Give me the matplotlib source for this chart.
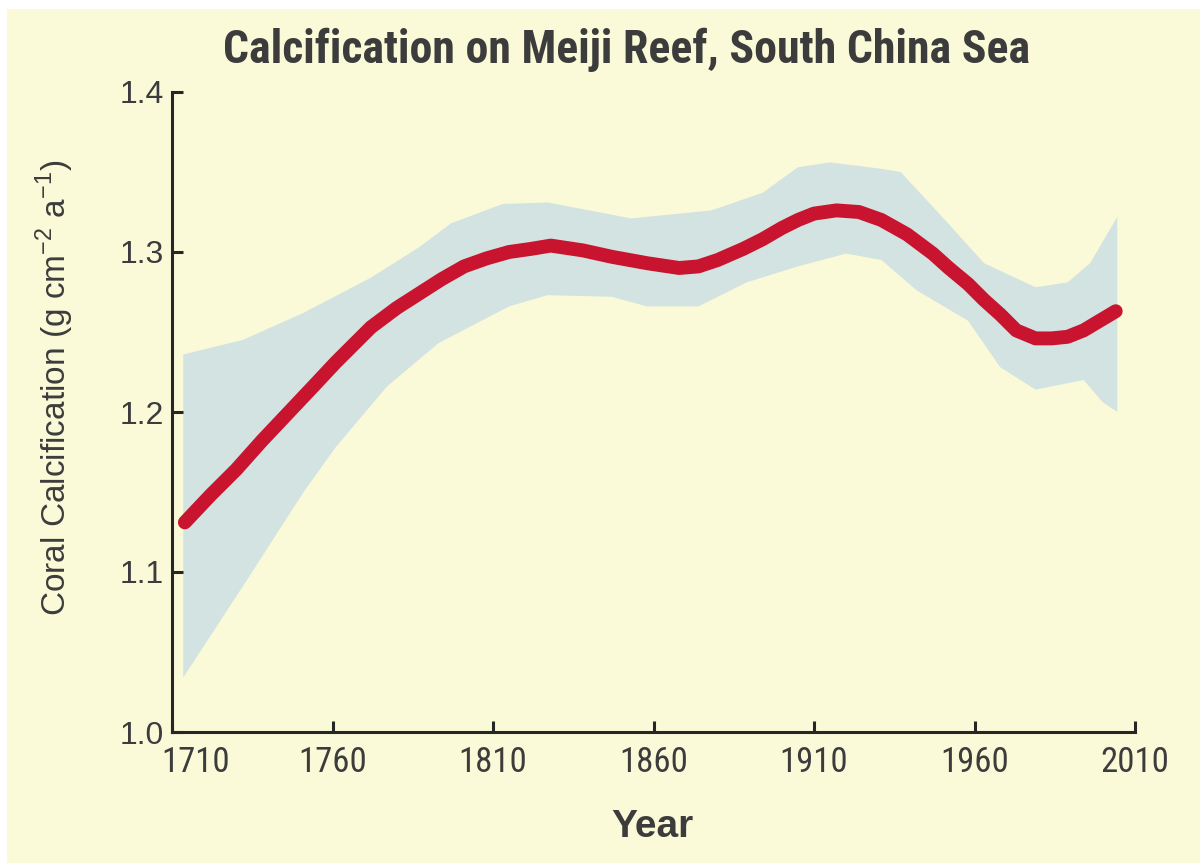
import matplotlib
matplotlib.use("Agg")
import matplotlib.pyplot as plt
from matplotlib import font_manager
from matplotlib.patches import Rectangle
from matplotlib.transforms import ScaledTranslation

def pick(names):
    for n in names:
        try:
            font_manager.findfont(font_manager.FontProperties(family=n), fallback_to_default=False)
            return n
        except Exception:
            pass
    return "DejaVu Sans"

NARROW = pick(["Liberation Sans Narrow", "Roboto Condensed", "Liberation Sans"])
SANS = pick(["Liberation Sans", "Arial", "DejaVu Sans"])

plt.rcParams["font.family"] = [SANS, "DejaVu Sans"]
plt.rcParams["mathtext.fontset"] = "custom"
plt.rcParams["mathtext.rm"] = SANS

# ---- data ----
line_years = [1714, 1722, 1730, 1738, 1746, 1754, 1761, 1767, 1772, 1780,
              1787, 1794, 1801, 1808, 1815, 1822, 1828, 1838, 1847, 1858,
              1868, 1874, 1880, 1888, 1894, 1900, 1905, 1910, 1917, 1924,
              1931, 1939, 1947, 1952, 1958, 1963, 1968, 1973, 1979, 1984,
              1989, 1994, 1999, 2004]
line_vals = [1.131, 1.148, 1.164, 1.182, 1.199, 1.216, 1.231, 1.243, 1.253, 1.265,
             1.274, 1.283, 1.291, 1.296, 1.300, 1.302, 1.304, 1.301, 1.297, 1.293,
             1.290, 1.291, 1.295, 1.302, 1.308, 1.315, 1.320, 1.324, 1.326, 1.325,
             1.320, 1.311, 1.299, 1.290, 1.280, 1.270, 1.261, 1.251, 1.246, 1.246,
             1.247, 1.251, 1.257, 1.263]

upper_years = [1713.5, 1732, 1751, 1772, 1787, 1797, 1813, 1827, 1853, 1878,
               1894, 1905, 1915, 1931, 1937, 1949, 1963, 1979, 1989, 1996, 2004.5]
upper_vals = [1.236, 1.245, 1.262, 1.284, 1.303, 1.318, 1.330, 1.331, 1.321, 1.326,
              1.337, 1.353, 1.356, 1.352, 1.350, 1.324, 1.293, 1.278, 1.281, 1.293, 1.322]

lower_years = [1713.5, 1734, 1751, 1761, 1777, 1793, 1815, 1827, 1847, 1858,
               1874, 1889, 1905, 1920, 1931, 1942, 1958, 1968, 1979, 1994, 2000, 2004.5]
lower_vals = [1.034, 1.097, 1.150, 1.178, 1.216, 1.243, 1.266, 1.273, 1.272, 1.266,
              1.266, 1.281, 1.291, 1.299, 1.295, 1.276, 1.257, 1.228, 1.214, 1.220, 1.206, 1.200]

x_ticks = [1710, 1760, 1810, 1860, 1910, 1960, 2010]
y_ticks = [1.0, 1.1, 1.2, 1.3, 1.4]

title = "Calcification on Meiji Reef, South China Sea"
xlabel = "Year"
ylabel = r"Coral Calcification (g cm$^{\mathregular{-2}}$ a$^{\mathregular{-1}}$)"

BG = "#FAFAD9"
BAND = "#D3E3E2"
RED = "#C8142F"
TXT = "#3C3C3C"
AX = "#262626"

fig = plt.figure(figsize=(12, 8.63), dpi=100, facecolor="white")
fig.patches.append(Rectangle((7 / 1200, 0), 1 - 7 / 1200, 1 - 9 / 863,
                             transform=fig.transFigure, facecolor=BG,
                             edgecolor="none", zorder=-10))

ax = fig.add_axes([172 / 1200, 131 / 863, (1135 - 172) / 1200, (771 - 131) / 863])
ax.set_facecolor("none")

band_x = list(upper_years) + list(lower_years[::-1])
band_y = list(upper_vals) + list(lower_vals[::-1])
ax.fill(band_x, band_y, color=BAND, lw=0, zorder=1)
ax.plot(line_years, line_vals, color=RED, lw=10, solid_capstyle="round",
        solid_joinstyle="round", zorder=3)

ax.set_xlim(1710, 2010)
ax.set_ylim(1.0, 1.4)
for s in ("top", "right"):
    ax.spines[s].set_visible(False)
for s in ("left", "bottom"):
    ax.spines[s].set_linewidth(2.2)
    ax.spines[s].set_color(AX)

ax.set_xticks(x_ticks)
ax.set_yticks(y_ticks)
ax.set_xticklabels([str(v) for v in x_ticks], fontfamily=NARROW, fontsize=25, color=TXT)
ax.set_yticklabels(["%.1f" % v for v in y_ticks], fontsize=23, color=TXT)
ax.tick_params(axis="both", direction="in", length=8, width=2.2, color=AX)
ax.tick_params(axis="x", pad=10)
ax.tick_params(axis="y", pad=6)

# first x label is shifted right to clear the y-axis label, as in the original
lbl0 = ax.get_xticklabels()[0]
lbl0.set_transform(lbl0.get_transform() + ScaledTranslation(0.24, 0, fig.dpi_scale_trans))

fig.text(627 / 1200, 1 - 50 / 863, title, ha="center", va="center",
         fontfamily=NARROW, fontweight="bold", fontsize=33, color=TXT)
fig.text(652 / 1200, 1 - 827 / 863, xlabel, ha="center", va="center",
         fontweight="bold", fontsize=28, color=TXT)
fig.text(55 / 1200, 1 - 388 / 863, ylabel, ha="center", va="center",
         rotation=90, fontsize=24, color=TXT)

fig.savefig("out.png", dpi=100, facecolor="white")
